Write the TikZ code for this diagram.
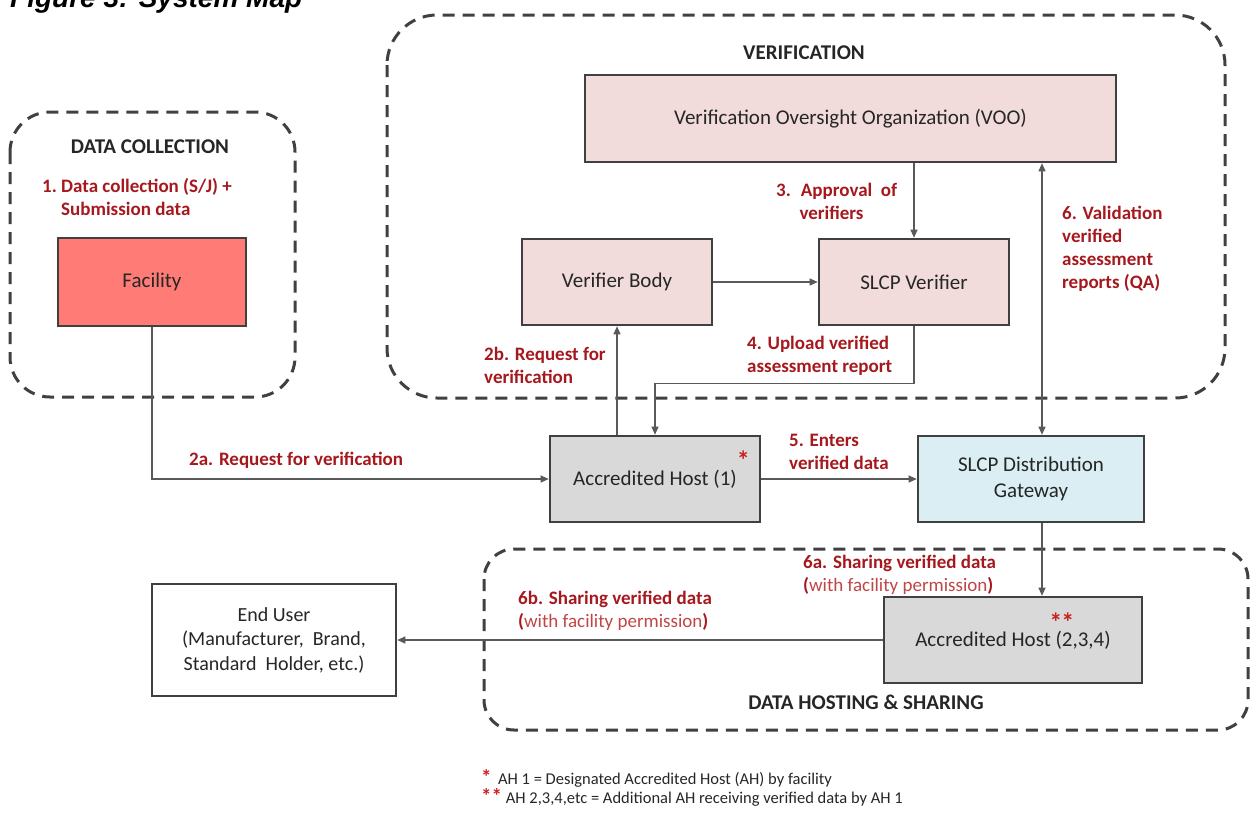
\documentclass[tikz,border=0pt]{standalone}
\usepackage{fontspec}
\setmainfont{Carlito}
\newfontfamily\titlefont{Liberation Sans}
\usepackage{tikz}
\usetikzlibrary{arrows.meta,positioning,calc}
\usepackage{xcolor}
\definecolor{cEdge}{RGB}{64,64,64}
\definecolor{cLine}{RGB}{89,89,89}
\definecolor{cText}{RGB}{38,38,38}
\definecolor{cLabel}{RGB}{165,25,30}
\definecolor{cPermit}{RGB}{192,70,70}
\definecolor{cStar}{RGB}{205,30,30}
\definecolor{cFacility}{RGB}{255,124,118}
\definecolor{cPink}{RGB}{242,220,219}
\definecolor{cGrey}{RGB}{217,217,217}
\definecolor{cGate}{RGB}{218,238,243}
\newcommand{\hoststar}[2]{\smash{\rlap{\hspace{#1}\raisebox{#2}{\color{cStar}\fontsize{26}{26}\selectfont\bfseries *}}}}

\begin{document}
\begin{tikzpicture}[x=1pt, y=-1pt,
  box/.style={draw=cEdge, line width=2.6pt, inner sep=0pt, align=center, text=cText,
              font=\fontsize{21}{26}\selectfont},
  conn/.style={draw=cLine, line width=1.1pt, -{Triangle[length=8pt,width=7pt]}},
  zone/.style={draw=cEdge, line width=3pt, dash pattern=on 12pt off 8pt},
  head/.style={inner sep=0pt, text=cText, font=\fontsize{21}{25}\selectfont\bfseries},
  lbl/.style={anchor=west, align=left, inner sep=0pt, text=cLabel,
              font=\fontsize{19}{23}\selectfont\bfseries},
  note/.style={anchor=base west, inner sep=0pt, text=cText, font=\fontsize{16.5}{19}\selectfont}]
\useasboundingbox (0,0) rectangle (1253,812);

\node[anchor=base west, inner sep=0pt, font=\titlefont\fontsize{28}{28}\selectfont\bfseries\itshape]
  (title) at (10,7) {Figure 3: System Map};

% zones
\foreach \xa/\ya/\xb/\yb/\r in {10/112/295/397/40, 387/15/1225/398/50, 484/549/1248/730/30}
  \draw[zone, rounded corners=\r pt] (\xa,\ya) rectangle (\xb,\yb);
\node[head] (hcoll) at (150,147) {DATA COLLECTION};
\node[head] (hver)  at (804,53)  {VERIFICATION};
\node[head] (hhost) at (866,702) {DATA HOSTING \& SHARING};

% boxes
\node[box, fill=cFacility, minimum width=188, minimum height=88] (fac)   at (152,282)   {Facility};
\node[box, fill=cPink,     minimum width=531, minimum height=87] (voo)   at (850.5,118.5) {Verification Oversight Organization (VOO)};
\node[box, fill=cPink,     minimum width=190, minimum height=86] (vb)    at (617,282)   {Verifier Body};
\node[box, fill=cPink,     minimum width=190, minimum height=86] (sv)    at (914,282)   {SLCP Verifier};
\node[box, fill=cGrey,     minimum width=210, minimum height=86] (ah1)   at (655,479)
  {Accredited Host (1)\hoststar{0pt}{16pt}};
\node[box, fill=cGate,     minimum width=226, minimum height=86] (gw)    at (1031,479)  {SLCP Distribution\\Gateway};
\node[box, fill=cGrey,     minimum width=258, minimum height=86] (ah234) at (1013,640)
  {\raisebox{-3pt}{\hoststar{134pt}{15pt}\hoststar{146pt}{15pt}Accredited Host (2,3,4)}};
\node[box, fill=white,     minimum width=244, minimum height=112,
      font=\fontsize{20}{24.5}\selectfont] (eu) at (274,640)
  {End User\\(Manufacturer,~ Brand,\\Standard~ Holder, etc.)};

% connectors
\coordinate (qa) at (1042,300);
\draw[conn] (fac) |- (ah1);
\draw[conn] (ah1.north -| vb) -- (vb.south);
\draw[conn] (voo.south -| sv) -- (sv.north);
\draw[conn] (vb) -- (sv);
\draw[conn] (sv.south) -- ++(0,57) -| (ah1.north);
\draw[conn] (ah1) -- (gw);
\draw[conn, {Triangle[length=8pt,width=7pt]}-{Triangle[length=8pt,width=7pt]}]
  (voo.south -| qa) -- (gw.north -| qa);
\draw[conn] (gw.south -| qa) -- (ah234.north -| qa);
\draw[conn] (ah234) -- (eu);

% labels
\node[lbl] (l1)  at (42,197)    {1.~Data collection (S/J)~+\\\hphantom{1.~}Submission data};
\node[lbl] (l2a) at (189,460)   {2a. Request for verification};
\node[lbl] (l2b) at (484,365.5) {2b. Request for\\verification};
\node[lbl] (l3)  at (776,201)   {3.~ Approval~ of\\\hphantom{3.~~}verifiers};
\node[lbl] (l4)  at (747,356)   {4. Upload verified\\assessment report};
\node[lbl] (l5)  at (789,451.5) {5. Enters\\verified data};
\node[lbl] (l6)  at (1062,248.5) {6. Validation\\verified\\assessment\\reports (QA)};
\node[lbl] (l6a) at (803,574.5) {6a. Sharing verified data\\({\mdseries\color{cPermit}with facility permission})};
\node[lbl] (l6b) at (518,610.5) {6b. Sharing verified data\\({\mdseries\color{cPermit}with facility permission})};

% notes
\node[note] (n1) at (481,784) {{\color{cStar}\fontsize{21}{21}\selectfont\bfseries *}\,~AH 1 = Designated Accredited Host (AH) by facility};
\node[note] (n2) at (481,803) {{\color{cStar}\fontsize{21}{21}\selectfont\bfseries **}~AH 2,3,4,etc = Additional AH receiving verified data by AH 1};
\end{tikzpicture}
\end{document}
